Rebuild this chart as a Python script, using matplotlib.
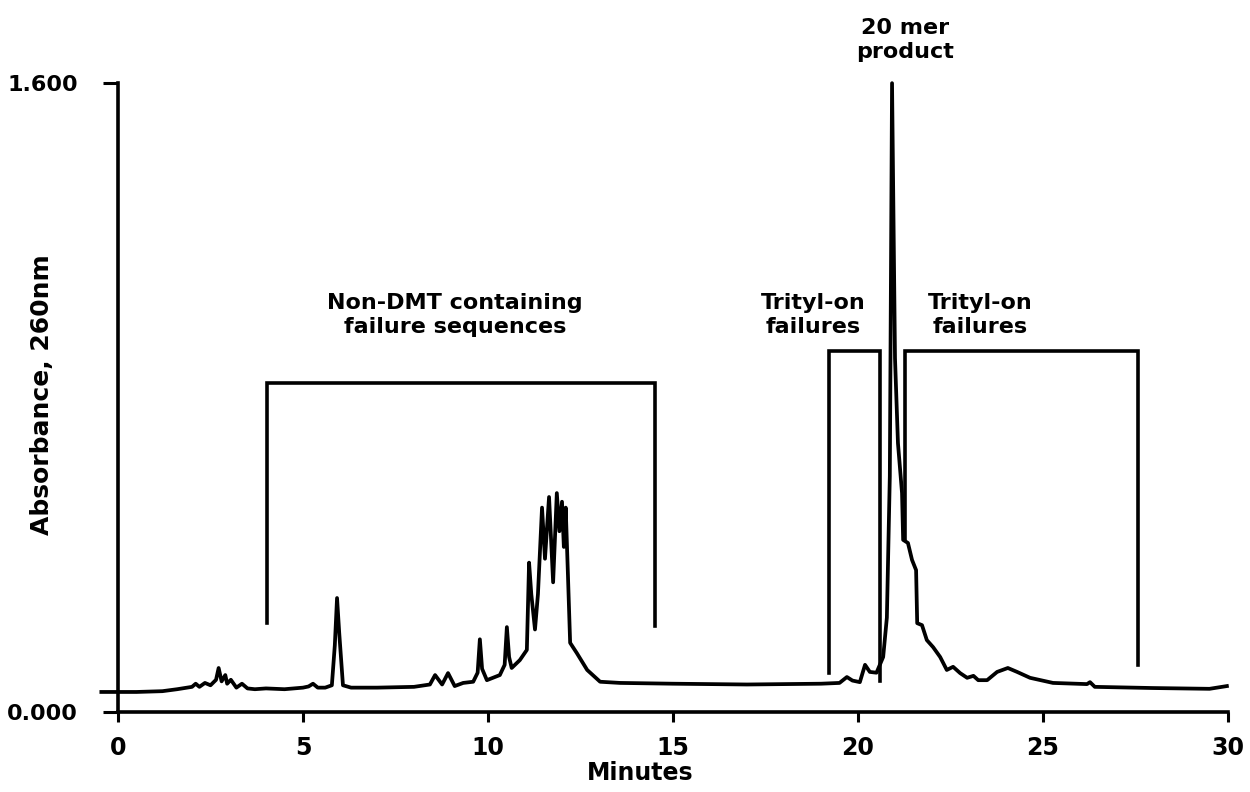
import numpy as np
import matplotlib
matplotlib.use("Agg")
import matplotlib.pyplot as plt

# chromatogram trace (minutes, absorbance at 260 nm)
minutes = [
    -0.45, 0.5, 1.2, 1.6, 2.0, 2.1, 2.2, 2.35, 2.5, 2.65, 2.72, 2.8, 2.9, 2.95,
    3.05, 3.2, 3.35, 3.5, 3.7, 4.0, 4.5, 5.0, 5.15, 5.27, 5.4, 5.6, 5.78, 5.86,
    5.92, 5.98, 6.08, 6.3, 7.0, 8.0, 8.43, 8.57, 8.76, 8.92, 9.1, 9.33, 9.6,
    9.72, 9.78, 9.84, 9.97, 10.32, 10.45, 10.51, 10.57, 10.64, 10.86, 11.05,
    11.11, 11.17, 11.27, 11.35, 11.46, 11.54, 11.65, 11.76, 11.86, 11.93, 12.0,
    12.05, 12.1, 12.16, 12.22, 12.4, 12.68, 13.03, 13.57, 15.0, 17.0, 19.0,
    19.5, 19.7, 19.85, 20.05, 20.19, 20.32, 20.5, 20.68, 20.78, 20.86, 20.92,
    21.0, 21.08, 21.19, 21.22, 21.35, 21.46, 21.57, 21.6, 21.73, 21.86, 22.03,
    22.22, 22.4, 22.57, 22.76, 22.95, 23.12, 23.25, 23.49, 23.76, 24.05, 24.3,
    24.65, 25.27, 26.19, 26.27, 26.4, 27.97, 29.5, 29.97,
]
absorbance = [
    0.051, 0.051, 0.053, 0.058, 0.064, 0.072, 0.064, 0.074, 0.068, 0.082,
    0.112, 0.078, 0.094, 0.072, 0.082, 0.062, 0.072, 0.060, 0.058, 0.060,
    0.058, 0.062, 0.065, 0.072, 0.062, 0.062, 0.068, 0.170, 0.290, 0.200,
    0.068, 0.062, 0.062, 0.064, 0.070, 0.094, 0.070, 0.099, 0.066, 0.074,
    0.077, 0.100, 0.185, 0.110, 0.081, 0.094, 0.120, 0.216, 0.140, 0.112,
    0.132, 0.158, 0.380, 0.300, 0.210, 0.300, 0.520, 0.390, 0.547, 0.330,
    0.557, 0.460, 0.535, 0.420, 0.520, 0.350, 0.176, 0.150, 0.107, 0.077,
    0.074, 0.072, 0.070, 0.072, 0.074, 0.089, 0.080, 0.076, 0.120, 0.102,
    0.100, 0.140, 0.240, 0.600, 1.600, 0.900, 0.684, 0.557, 0.438, 0.430,
    0.387, 0.361, 0.226, 0.221, 0.183, 0.165, 0.140, 0.107, 0.115, 0.099,
    0.087, 0.092, 0.081, 0.081, 0.102, 0.112, 0.102, 0.087, 0.074, 0.071,
    0.076, 0.064, 0.061, 0.059, 0.066,
]

# bracket annotations: left/right x, top, bottom of left leg, bottom of right leg
bracket_left = [4.03, 19.22, 21.27]
bracket_right = [14.51, 20.6, 27.57]
bracket_top = [0.837, 0.918, 0.918]
bracket_left_bottom = [0.226, 0.100, 0.440]
bracket_right_bottom = [0.220, 0.080, 0.120]
bracket_labels = ["Non-DMT containing\nfailure sequences",
                  "Trityl-on\nfailures", "Trityl-on\nfailures"]
label_x = [9.1, 18.8, 23.3]
label_y = [1.01, 1.01, 1.01]

x_ticks = [0, 5, 10, 15, 20, 25, 30]
y_ticks = [0.0, 1.6]
y_ticklabels = ["0.000", "1.600"]

plt.rcParams["font.family"] = ["DejaVu Sans"]
plt.rcParams["font.weight"] = "bold"

fig = plt.figure(figsize=(12.5, 7.92), dpi=100)
ax = fig.add_axes([0.0944, 0.101, 0.888, 0.794])

ax.plot(minutes, absorbance, color="black", linewidth=2.7, clip_on=False,
        solid_joinstyle="round")

for i in range(len(bracket_left)):
    ax.plot(
        [bracket_left[i], bracket_left[i], bracket_right[i], bracket_right[i]],
        [bracket_left_bottom[i], bracket_top[i], bracket_top[i],
         bracket_right_bottom[i]],
        color="black", linewidth=2.6, solid_joinstyle="miter",
    )
    ax.text(label_x[i], label_y[i], bracket_labels[i], ha="center",
            va="center", fontsize=16, fontweight="bold", linespacing=1.2)

ax.text(21.27, 1.71, "20 mer\nproduct", ha="center", va="center",
        fontsize=16, fontweight="bold", linespacing=1.2, clip_on=False)

ax.set_xlim(0, 30)
ax.set_ylim(0, 1.6)
ax.set_xticks(x_ticks)
ax.set_yticks(y_ticks)
ax.set_yticklabels(y_ticklabels)
ax.tick_params(axis="x", direction="out", length=7, width=2.2, pad=10,
               labelsize=17)
ax.tick_params(axis="y", direction="out", length=11, width=2.2, pad=18,
               labelsize=16)

for side in ["top", "right"]:
    ax.spines[side].set_visible(False)
for side in ["left", "bottom"]:
    ax.spines[side].set_linewidth(2.6)

ax.set_xlabel("Minutes", fontsize=17, fontweight="bold")
ax.set_ylabel("Absorbance, 260nm", fontsize=18, fontweight="bold")
ax.yaxis.set_label_coords(-0.058, 0.505)
ax.xaxis.set_label_coords(0.47, -0.078)

fig.savefig("out.png", dpi=100)
